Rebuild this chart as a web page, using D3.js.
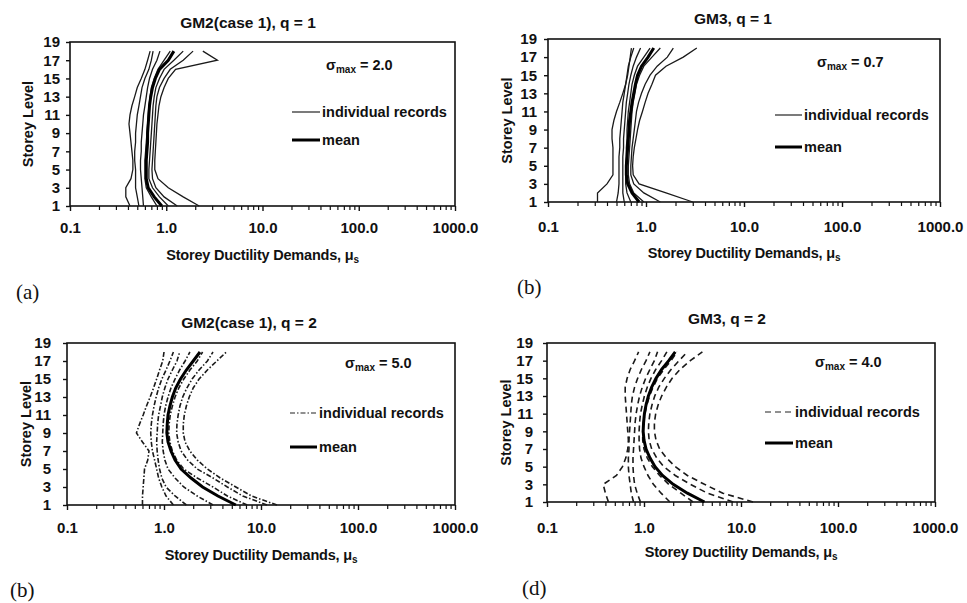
<!DOCTYPE html>
<html><head><meta charset="utf-8">
<script src="https://cdn.jsdelivr.net/npm/d3@7"></script>
<style>
body{margin:0;background:#fff}
svg{display:block}
text{font-family:"Liberation Sans",Arial,sans-serif;fill:#111;font-weight:bold}
</style></head>
<body><svg id="c" width="967" height="603"></svg>
<script>
// ---------------- data ----------------
const storeys = d3.range(1, 19);               // storey levels 1..18
const yTicks = [1,3,5,7,9,11,13,15,17,19];
const xTicks = [0.1, 1, 10, 100, 1000];
const xTickLabels = ["0.1","1.0","10.0","100.0","1000.0"];
const titles = ["GM2(case 1), q = 1", "GM3, q = 1", "GM2(case 1), q = 2", "GM3, q = 2"];
const sigmaMax = ["2.0", "0.7", "5.0", "4.0"];
const panelLetters = ["(a)", "(b)", "(b)", "(d)"];
const legendLabels = ["individual records", "mean"];

// panel (a) GM2 case1 q=1 : individual records (storey 1..18)
const recA = [
 [0.42,0.38,0.38,0.43,0.45,0.45,0.44,0.43,0.42,0.41,0.42,0.44,0.47,0.50,0.55,0.60,0.64,0.68],
 [0.52,0.50,0.48,0.48,0.48,0.47,0.47,0.48,0.48,0.49,0.50,0.52,0.54,0.56,0.60,0.66,0.70,0.73],
 [0.58,0.57,0.56,0.55,0.54,0.54,0.55,0.55,0.56,0.57,0.58,0.60,0.62,0.64,0.67,0.72,0.80,0.86],
 [0.80,0.70,0.62,0.60,0.60,0.60,0.61,0.62,0.63,0.64,0.65,0.66,0.68,0.70,0.75,0.82,0.95,1.10],
 [1.05,0.85,0.72,0.66,0.66,0.67,0.68,0.69,0.70,0.71,0.72,0.73,0.75,0.78,0.85,0.95,1.20,1.50],
 [1.30,0.95,0.78,0.72,0.71,0.72,0.73,0.74,0.75,0.76,0.77,0.78,0.80,0.85,0.95,1.10,1.50,1.90],
 [2.20,1.50,1.05,0.82,0.76,0.76,0.77,0.78,0.79,0.80,0.82,0.84,0.88,0.95,1.05,1.25,3.40,2.40]
];
const meanA = [0.90,0.75,0.65,0.62,0.62,0.62,0.63,0.64,0.64,0.65,0.66,0.67,0.69,0.72,0.77,0.85,1.05,1.20];

// panel (b) GM3 q=1
const recB = [
 [0.32,0.32,0.40,0.46,0.46,0.46,0.46,0.45,0.45,0.47,0.50,0.54,0.58,0.62,0.65,0.67,0.69,0.71],
 [0.50,0.52,0.53,0.53,0.53,0.53,0.54,0.54,0.55,0.56,0.57,0.58,0.60,0.62,0.64,0.66,0.70,0.75],
 [0.60,0.58,0.58,0.58,0.58,0.58,0.59,0.59,0.60,0.61,0.62,0.63,0.65,0.67,0.70,0.74,0.80,0.88],
 [0.70,0.64,0.62,0.62,0.62,0.63,0.63,0.64,0.64,0.65,0.66,0.68,0.70,0.72,0.76,0.82,0.95,1.10],
 [0.95,0.75,0.68,0.66,0.66,0.67,0.68,0.69,0.70,0.71,0.72,0.74,0.77,0.80,0.86,0.95,1.15,1.40],
 [1.40,0.95,0.75,0.70,0.70,0.71,0.72,0.74,0.76,0.78,0.80,0.84,0.90,0.98,1.10,1.30,1.65,1.90],
 [3.00,1.60,0.85,0.74,0.73,0.74,0.76,0.79,0.82,0.86,0.92,0.98,1.05,1.15,1.25,1.60,2.40,3.30]
];
const meanB = [0.85,0.72,0.65,0.63,0.63,0.64,0.65,0.66,0.67,0.68,0.70,0.72,0.75,0.78,0.82,0.90,1.05,1.20];

// panel (c) GM2 case1 q=2
const recC = [
 [0.60,0.60,0.61,0.62,0.63,0.68,0.70,0.60,0.52,0.56,0.61,0.66,0.72,0.78,0.84,0.90,0.97,1.00],
 [1.25,1.05,0.95,0.88,0.84,0.80,0.76,0.74,0.73,0.74,0.76,0.79,0.83,0.88,0.95,1.05,1.15,1.25],
 [1.70,1.30,1.05,0.95,0.90,0.87,0.85,0.84,0.85,0.86,0.88,0.92,0.96,1.02,1.10,1.22,1.36,1.45],
 [3.20,2.20,1.60,1.30,1.10,1.02,0.98,0.96,0.97,0.98,1.00,1.04,1.10,1.18,1.30,1.45,1.65,1.85],
 [7.20,4.50,3.20,2.20,1.60,1.35,1.22,1.15,1.12,1.13,1.16,1.22,1.30,1.42,1.60,1.85,2.20,2.50],
 [11.5,6.50,4.50,3.20,2.20,1.75,1.50,1.40,1.35,1.36,1.40,1.46,1.56,1.72,1.95,2.30,2.80,3.20],
 [14.6,8.00,5.50,3.80,2.80,2.20,1.85,1.65,1.58,1.58,1.62,1.70,1.82,2.00,2.30,2.80,3.50,4.40]
];
const meanC = [5.50,3.60,2.50,1.90,1.50,1.30,1.18,1.10,1.07,1.08,1.10,1.15,1.22,1.32,1.48,1.70,2.00,2.35];

// panel (d) GM3 q=2
const recD = [
 [0.43,0.40,0.38,0.52,0.60,0.65,0.68,0.69,0.68,0.67,0.66,0.65,0.64,0.64,0.67,0.72,0.80,0.88],
 [0.78,0.74,0.72,0.70,0.69,0.69,0.70,0.70,0.71,0.72,0.73,0.74,0.76,0.80,0.86,0.94,1.05,1.15],
 [0.92,0.85,0.80,0.78,0.77,0.77,0.78,0.79,0.80,0.81,0.83,0.86,0.90,0.96,1.04,1.15,1.28,1.38],
 [1.85,1.50,1.25,1.10,1.00,0.93,0.90,0.89,0.89,0.90,0.92,0.96,1.01,1.08,1.18,1.32,1.52,1.72],
 [3.20,2.40,1.80,1.45,1.22,1.08,1.00,0.97,0.97,0.99,1.02,1.07,1.14,1.24,1.38,1.60,1.90,2.20],
 [8.30,4.50,3.00,2.10,1.60,1.35,1.20,1.13,1.11,1.12,1.15,1.21,1.29,1.42,1.62,1.90,2.30,2.80],
 [13.3,6.50,4.20,2.80,2.10,1.70,1.45,1.33,1.28,1.28,1.32,1.40,1.52,1.70,1.95,2.35,3.00,4.00]
];
const meanD = [4.20,2.80,2.00,1.55,1.30,1.15,1.05,1.00,0.98,0.99,1.01,1.05,1.11,1.20,1.33,1.52,1.80,2.10];

const records = [recA, recB, recC, recD];
const means = [meanA, meanB, meanC, meanD];

// ---------------- layout ----------------
const layout = [
 {l:70,  r:455, t:42,  b:206, titleX:248, titleY:22,  xlabY:228, xtitY:255, ytitX:28,  letterX:16,  letterY:292,
  sigX:326, sigY:65, legX1:292, legX2:320, legY1:112, legY2:140, dash:null, ygap:7, sw:1.3},
 {l:548, r:940, t:39,  b:202, titleX:733, titleY:18,  xlabY:227, xtitY:253, ytitX:507, letterX:517, letterY:287,
  sigX:817, sigY:62, legX1:775, legX2:802, legY1:115, legY2:147, dash:null, ygap:8, sw:1.3},
 {l:67,  r:455, t:343, b:505, titleX:249, titleY:322, xlabY:528, xtitY:555, ytitX:26,  letterX:10,  letterY:590,
  sigX:345, sigY:363, legX1:290, legX2:317, legY1:413, legY2:447, dash:"5,2,1.5,2", ygap:13, sw:1.6},
 {l:547, r:935, t:343, b:502, titleX:727, titleY:318, xlabY:528, xtitY:552, ytitX:506, letterX:522, letterY:588,
  sigX:815, sigY:362, legX1:765, legX2:793, legY1:412, legY2:443, dash:"6,4", ygap:11, sw:1.6}
];

const svg = d3.select("#c");

layout.forEach((L, i) => {
  const g = svg.append("g");
  const x = d3.scaleLog().domain([0.1, 1000]).range([L.l, L.r]);
  const y = d3.scaleLinear().domain([1, 19]).range([L.b, L.t]);

  // minor ticks
  const minor = [];
  [0.1, 1, 10, 100].forEach(d => { for (let k = 2; k <= 9; k++) minor.push(d * k); });
  g.append("g").attr("transform", `translate(0,${L.b})`)
    .call(d3.axisBottom(x).tickValues(minor).tickSize(4).tickFormat(""))
    .call(a => a.select(".domain").remove())
    .selectAll("line").attr("stroke", "#111").attr("stroke-width", 1.2);

  // x axis
  const xa = g.append("g").attr("transform", `translate(0,${L.b})`)
    .call(d3.axisBottom(x).tickValues(xTicks).tickSize(5)
      .tickFormat((d, j) => xTickLabels[j]));
  xa.select(".domain").remove();
  xa.selectAll("line").attr("stroke", "#111").attr("stroke-width", 1.4);
  xa.selectAll("text").attr("y", L.xlabY - L.b).attr("dy", "0.35em")
    .style("font-size", "15px");

  // y axis
  const ya = g.append("g").attr("transform", `translate(${L.l},0)`)
    .call(d3.axisLeft(y).tickValues(yTicks).tickSize(4).tickPadding(L.ygap - 4 + 3));
  ya.select(".domain").remove();
  ya.selectAll("line").attr("stroke", "#111").attr("stroke-width", 1.4);
  ya.selectAll("text").style("font-size", "15px");

  // plot frame
  g.append("rect").attr("x", L.l).attr("y", L.t).attr("width", L.r - L.l).attr("height", L.b - L.t)
    .attr("fill", "none").attr("stroke", "#111").attr("stroke-width", 1.6);

  // curves
  const line = d3.line().x(d => x(d[0])).y(d => y(d[1]));
  records[i].forEach(rec => {
    g.append("path").datum(rec.map((v, k) => [v, storeys[k]]))
      .attr("d", line).attr("fill", "none").attr("stroke", "#1a1a1a")
      .attr("stroke-width", L.sw).attr("stroke-dasharray", L.dash);
  });
  g.append("path").datum(means[i].map((v, k) => [v, storeys[k]]))
    .attr("d", line).attr("fill", "none").attr("stroke", "#000").attr("stroke-width", 3);

  // title
  g.append("text").attr("x", L.titleX).attr("y", L.titleY).attr("text-anchor", "middle")
    .attr("dominant-baseline", "central").style("font-size", "15.5px").text(titles[i]);

  // x title
  const xt = g.append("text").attr("x", (L.l + L.r) / 2).attr("y", L.xtitY).attr("text-anchor", "middle")
    .attr("dominant-baseline", "central").style("font-size", "14.5px").style("letter-spacing", "-0.2px");
  xt.append("tspan").text("Storey Ductility Demands, μ");
  xt.append("tspan").attr("dy", "4").style("font-size", "10px").text("s");

  // y title
  g.append("text").attr("transform", `translate(${L.ytitX},${(L.t + L.b) / 2}) rotate(-90)`)
    .attr("text-anchor", "middle").attr("dominant-baseline", "central")
    .style("font-size", "14.5px").text("Storey Level");

  // sigma
  const st = g.append("text").attr("x", L.sigX).attr("y", L.sigY).attr("dominant-baseline", "central")
    .style("font-size", "14.5px");
  st.append("tspan").text("σ");
  st.append("tspan").attr("dy", "4").style("font-size", "10px").text("max");
  st.append("tspan").attr("dy", "-4").text(" = " + sigmaMax[i]);

  // legend
  g.append("line").attr("x1", L.legX1).attr("x2", L.legX2).attr("y1", L.legY1).attr("y2", L.legY1)
    .attr("stroke", "#222").attr("stroke-width", 1.2).attr("stroke-dasharray", L.dash);
  g.append("text").attr("x", L.legX2 + 2).attr("y", L.legY1).attr("dominant-baseline", "central")
    .style("font-size", "14.5px").text(legendLabels[0]);
  g.append("line").attr("x1", L.legX1).attr("x2", L.legX2).attr("y1", L.legY2).attr("y2", L.legY2)
    .attr("stroke", "#000").attr("stroke-width", 3);
  g.append("text").attr("x", L.legX2 + 2).attr("y", L.legY2).attr("dominant-baseline", "central")
    .style("font-size", "14.5px").text(legendLabels[1]);

  // panel letter
  g.append("text").attr("x", L.letterX).attr("y", L.letterY).attr("dominant-baseline", "central")
    .style("font-family", "'Liberation Serif','Times New Roman',serif").style("font-weight", "normal")
    .style("font-size", "21px").text(panelLetters[i]);
});
</script></body></html>
